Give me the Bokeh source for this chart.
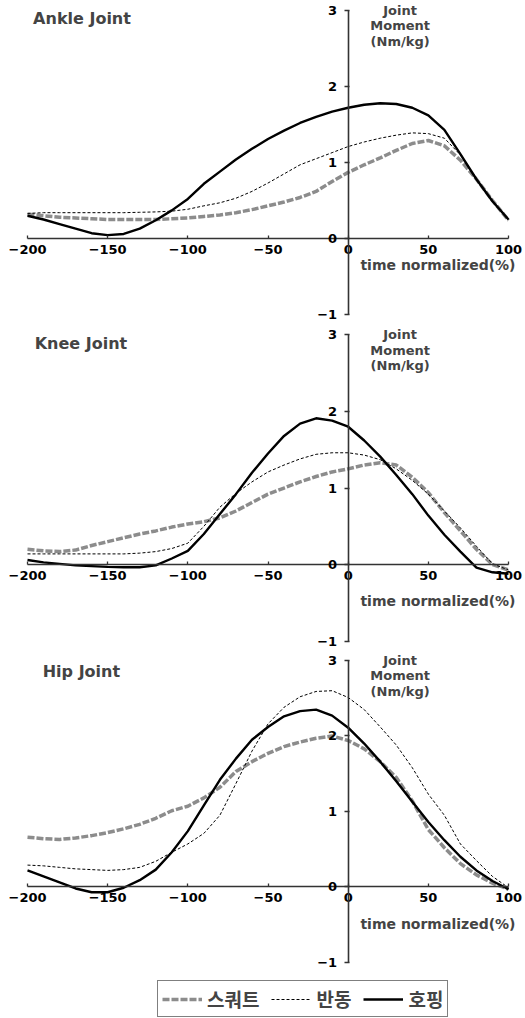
from bokeh.plotting import figure
from bokeh.models import Label, FixedTicker, Legend, LegendItem, Range1d
from bokeh.layouts import column
from bokeh.embed import file_html
from bokeh.resources import INLINE

# ---------------- data ----------------
time_pct = [-200, -190, -180, -170, -160, -150, -140, -130, -120, -110, -100,
            -90, -80, -70, -60, -50, -40, -30, -20, -10, 0,
            10, 20, 30, 40, 50, 60, 70, 80, 90, 100]

series_names = ["스쿼트", "반동", "호핑"]

ankle_squat = [0.32, 0.30, 0.28, 0.27, 0.26, 0.25, 0.25, 0.25, 0.25, 0.26, 0.27,
               0.29, 0.31, 0.34, 0.38, 0.43, 0.48, 0.54, 0.62, 0.75, 0.87,
               0.97, 1.06, 1.16, 1.25, 1.29, 1.22, 1.03, 0.78, 0.50, 0.24]
ankle_cmj = [0.33, 0.34, 0.34, 0.34, 0.34, 0.34, 0.34, 0.345, 0.35, 0.36, 0.385,
             0.43, 0.47, 0.53, 0.62, 0.73, 0.85, 0.97, 1.05, 1.13, 1.21,
             1.27, 1.32, 1.36, 1.39, 1.38, 1.32, 1.10, 0.78, 0.50, 0.25]
ankle_hop = [0.30, 0.25, 0.19, 0.13, 0.07, 0.045, 0.06, 0.13, 0.24, 0.37, 0.52,
             0.72, 0.88, 1.04, 1.18, 1.31, 1.42, 1.52, 1.60, 1.67, 1.72,
             1.76, 1.78, 1.77, 1.72, 1.62, 1.43, 1.11, 0.78, 0.49, 0.25]

knee_squat = [0.20, 0.18, 0.17, 0.19, 0.25, 0.30, 0.35, 0.40, 0.44, 0.49, 0.53,
              0.56, 0.61, 0.70, 0.81, 0.92, 1.00, 1.08, 1.15, 1.21, 1.25,
              1.30, 1.33, 1.30, 1.14, 0.94, 0.68, 0.44, 0.20, 0.00, -0.07]
knee_cmj = [0.14, 0.14, 0.14, 0.14, 0.14, 0.14, 0.14, 0.15, 0.17, 0.21, 0.28,
            0.50, 0.75, 0.93, 1.08, 1.21, 1.30, 1.38, 1.44, 1.46, 1.46,
            1.43, 1.37, 1.25, 1.10, 0.92, 0.70, 0.48, 0.24, 0.01, -0.07]
knee_hop = [0.06, 0.03, 0.01, -0.01, -0.02, -0.03, -0.035, -0.035, -0.01, 0.08, 0.18,
            0.40, 0.66, 0.92, 1.20, 1.45, 1.68, 1.84, 1.91, 1.88, 1.80,
            1.62, 1.41, 1.17, 0.92, 0.64, 0.39, 0.17, -0.04, -0.10, -0.12]

hip_squat = [0.66, 0.64, 0.63, 0.65, 0.68, 0.72, 0.77, 0.83, 0.91, 1.01, 1.07,
             1.18, 1.32, 1.53, 1.66, 1.77, 1.86, 1.92, 1.97, 2.00, 1.94,
             1.83, 1.66, 1.45, 1.14, 0.76, 0.52, 0.31, 0.16, 0.05, -0.03]
hip_cmj = [0.29, 0.28, 0.26, 0.24, 0.23, 0.22, 0.23, 0.26, 0.34, 0.46, 0.57,
           0.71, 0.95, 1.37, 1.80, 2.16, 2.38, 2.52, 2.59, 2.60, 2.51,
           2.35, 2.12, 1.88, 1.58, 1.23, 0.95, 0.57, 0.35, 0.14, -0.01]
hip_hop = [0.22, 0.14, 0.06, -0.02, -0.07, -0.07, -0.01, 0.09, 0.23, 0.46, 0.74,
           1.08, 1.42, 1.70, 1.95, 2.12, 2.26, 2.33, 2.35, 2.27, 2.11,
           1.90, 1.66, 1.40, 1.13, 0.86, 0.62, 0.40, 0.22, 0.08, -0.03]

x_ticks = [-200, -150, -100, -50, 0, 50, 100]
y_ticks = [-1, 0, 1, 2, 3]

panel_titles = ["Ankle Joint", "Knee Joint", "Hip Joint"]
y_axis_title = ["Joint", "Moment", "(Nm/kg)"]
x_axis_title = "time normalized(%)"

FONT = "DejaVu Sans"
KFONT = "Noto Sans CJK KR"


def make_panel(title, squat, cmj, hop, height, y_rng, px_per_unit, title_x, title_dy,
               xlab_y, legend=False):
    p = figure(width=525, height=height, output_backend="svg", toolbar_location=None,
               x_range=Range1d(-216.84, 110.6), y_range=Range1d(*y_rng),
               min_border=0, min_border_left=0, min_border_right=0,
               min_border_top=0, min_border_bottom=0)
    p.outline_line_color = None
    p.xgrid.visible = False
    p.ygrid.visible = False
    p.background_fill_color = "white"
    p.border_fill_color = "white"

    for ax, ticks, bounds in ((p.xaxis[0], x_ticks, (-200, 100)), (p.yaxis[0], y_ticks, (-1, 3))):
        ax.fixed_location = 0
        ax.bounds = bounds
        ax.ticker = FixedTicker(ticks=ticks)
        ax.minor_tick_line_color = None
        ax.axis_line_color = "#333333"
        ax.axis_line_width = 1.6
        ax.major_tick_line_color = "#333333"
        ax.major_tick_line_width = 1.3
        ax.major_label_text_font = FONT
        ax.major_label_text_font_style = "bold"
        ax.major_label_text_font_size = "13px"
        ax.major_label_text_color = "black"
    p.xaxis[0].major_tick_in = 3
    p.xaxis[0].major_tick_out = 0
    p.xaxis[0].major_label_standoff = 6
    p.yaxis[0].major_tick_in = 1
    p.yaxis[0].major_tick_out = 4
    p.yaxis[0].major_label_standoff = 7

    r_sq = p.line(time_pct, squat, line_color="#8c8c8c", line_width=3.5, line_dash="7 2")
    r_cm = p.line(time_pct, cmj, line_color="black", line_width=1, line_dash="3 2")
    r_hp = p.line(time_pct, hop, line_color="black", line_width=2.4)

    p.add_layout(Label(x=title_x, y=3 - title_dy / px_per_unit, text=title, text_font=FONT,
                       text_font_style="bold", text_font_size="16px",
                       text_baseline="middle", text_align="left"))
    for i, t in enumerate(y_axis_title):
        p.add_layout(Label(x=32.4, y=3 - i * 15.3 / px_per_unit, text=t, text_font=FONT,
                           text_font_style="bold", text_font_size="13px",
                           text_baseline="middle", text_align="center"))
    p.add_layout(Label(x=56, y=xlab_y, text=x_axis_title, text_font=FONT,
                       text_font_style="bold", text_font_size="14px",
                       text_baseline="middle", text_align="center"))

    if legend:
        lg = Legend(items=[LegendItem(label=series_names[0], renderers=[r_sq]),
                           LegendItem(label=series_names[1], renderers=[r_cm]),
                           LegendItem(label=series_names[2], renderers=[r_hp])],
                    orientation="horizontal", location=(157, 1),
                    glyph_width=40, glyph_height=20, label_height=20,
                    label_standoff=5, spacing=12, padding=4, margin=0,
                    label_text_font=KFONT, label_text_font_style="bold",
                    label_text_font_size="19px", border_line_color="black",
                    border_line_width=1.5, background_fill_alpha=1)
        p.add_layout(lg, "center")
    return p


p1 = make_panel(panel_titles[0], ankle_squat, ankle_cmj, ankle_hop, 322,
                (-1.105, 3.1316), 76.0, -196.5, 8.0, -0.342)
p2 = make_panel(panel_titles[1], knee_squat, knee_cmj, knee_hop, 328,
                (-1.121, 3.1606), 76.6, -195.5, 8.4, -0.47)
p3 = make_panel(panel_titles[2], hip_squat, hip_cmj, hip_hop, 368,
                (-1.742, 3.1325), 75.5, -190.5, 10.7, -0.486, legend=True)

layout = column(p1, p2, p3, spacing=0)
open("out.html", "w").write(file_html(layout, INLINE))
